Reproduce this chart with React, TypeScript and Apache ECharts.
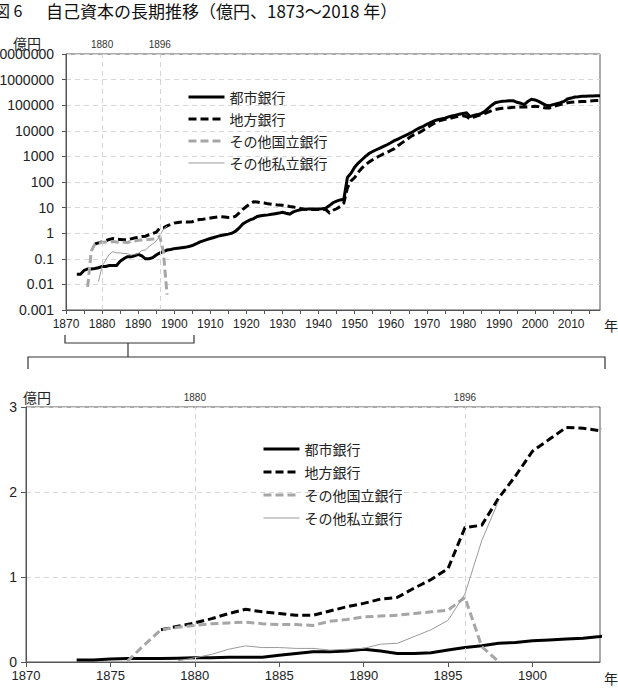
import React, { useEffect, useRef } from "react";
import * as echarts from "echarts";

const FONT = "'Liberation Sans', 'Noto Sans CJK JP', sans-serif";
const JP_FONT = "'Noto Sans CJK JP', 'Liberation Sans', sans-serif";

const seriesNames = ["都市銀行", "地方銀行", "その他国立銀行", "その他私立銀行"];

// 都市銀行, 1873–2018 (億円)
const cityStart = 1873;
const cityValues = [
  0.025, 0.025, 0.035, 0.04, 0.04, 0.042, 0.045,
  0.05, 0.05, 0.055, 0.055, 0.055, 0.08, 0.1, 0.12, 0.12, 0.13,
  0.15, 0.13, 0.1, 0.1, 0.11, 0.14, 0.17, 0.19, 0.22, 0.23,
  0.25, 0.26, 0.27, 0.28, 0.3, 0.33, 0.38, 0.45, 0.5, 0.56,
  0.62, 0.68, 0.75, 0.82, 0.87, 0.92, 1.0, 1.2, 1.6, 2.3,
  2.8, 3.3, 3.7, 4.5, 4.8, 5.0, 5.2, 5.5, 5.8, 6.1,
  6.6, 6.0, 5.6, 6.8, 7.6, 8.2, 8.7, 8.8, 8.8, 8.9,
  8.9, 9.0, 9.5, 12, 15.5, 18, 20, 21, 150, 220,
  380, 550, 740, 1000, 1300, 1550, 1820, 2100, 2450, 2850,
  3400, 4100, 4700, 5600, 6500, 7600, 9000, 11000, 13000, 15000,
  18000, 21000, 24500, 27000, 29000, 31000, 35000, 38000, 41000, 44000,
  47000, 50000, 36000, 40000, 43000, 47000, 56000, 75000, 100000, 125000,
  135000, 142000, 145000, 150000, 148000, 130000, 120000, 105000, 140000, 170000,
  160000, 140000, 118000, 100000, 96000, 105000, 115000, 125000, 140000, 175000,
  190000, 210000, 215000, 222000, 225000, 228000, 230000, 232000, 235000,
];

// 地方銀行, 1878–2018
const regionalStart = 1878;
const regionalValues = [
  0.38, 0.42,
  0.46, 0.51, 0.57, 0.62, 0.59, 0.57, 0.55, 0.55, 0.6, 0.65,
  0.69, 0.74, 0.76, 0.87, 0.97, 1.1, 1.58, 1.61, 1.93, 2.19,
  2.48, 2.62, 2.76, 2.75, 2.72, 2.8, 3.2, 3.4, 3.5, 3.7,
  3.9, 4.1, 4.3, 4.4, 4.3, 4.1, 4.1, 4.6, 6.2, 8.5,
  11, 14, 17, 16.5, 15.6, 15, 14, 13.5, 13, 12.5,
  12.3, 11.8, 11, 10.5, 10, 9.2, 8.6, 8.4, 8.4, 8.4,
  8.4, 8.4, 8.4, 6.2, 7.9, 9, 11, 15, 60, 110,
  150, 240, 350, 470, 600, 740, 900, 1060, 1250, 1450,
  1700, 2000, 2600, 3300, 4100, 5200, 6500, 7500, 8700, 10500,
  13000, 16000, 19500, 23000, 26000, 28000, 29000, 32000, 35000, 37000,
  39000, 36000, 29000, 34000, 38000, 43000, 47000, 54000, 62000, 68000,
  73000, 76000, 78000, 80000, 83000, 84000, 85000, 85000, 86000, 88000,
  91000, 88000, 83000, 78000, 78000, 90000, 96000, 105000, 115000, 125000,
  130000, 133000, 136000, 138000, 140000, 145000, 148000, 152000, 155000,
];

// その他国立銀行, 1876–1898
const nationalStart = 1876;
const nationalValues = [
  0.008, 0.2, 0.38, 0.41, 0.43, 0.45, 0.46, 0.47, 0.45, 0.44, 0.44, 0.43,
  0.48, 0.5, 0.53, 0.54, 0.55, 0.57, 0.59, 0.61, 0.76, 0.18, 0.004,
];

// その他私立銀行, 1879–1898
const privateStart = 1879;
const privateValues = [
  0.013, 0.05, 0.09, 0.15, 0.19, 0.17, 0.17, 0.16, 0.16, 0.14,
  0.15, 0.16, 0.21, 0.22, 0.3, 0.38, 0.49, 0.8, 1.43, 1.9,
];

const markYears = [1880, 1896];
const detailEndYear = 1904;

const lineStyles = [
  { color: "#000000", width: 3, type: "solid" as any },
  { color: "#000000", width: 3, type: [8, 4] as any },
  { color: "#a6a6a6", width: 3, type: [8, 4] as any },
  { color: "#9a9a9a", width: 1, type: "solid" as any },
];

const toPairs = (start: number, values: number[]) =>
  values.map((v, i) => [start + i, v]);

const allData = [
  toPairs(cityStart, cityValues),
  toPairs(regionalStart, regionalValues),
  toPairs(nationalStart, nationalValues),
  toPairs(privateStart, privateValues),
];

function buildSeries(grid: number, lastYear: number) {
  return seriesNames.map((name, i) => {
    const s: any = {
      type: "line",
      name,
      xAxisIndex: grid,
      yAxisIndex: grid,
      data: allData[i].filter((d) => d[0] <= lastYear),
      symbol: "none",
      clip: true,
      lineStyle: { ...lineStyles[i], cap: "butt", join: "miter" },
      itemStyle: { color: lineStyles[i].color },
      emphasis: { disabled: true },
    };
    if (i === 0) {
      s.markLine = {
        silent: true,
        symbol: "none",
        animation: false,
        lineStyle: { type: [5, 4], color: "#d4d4d4", width: 1 },
        label: {
          show: true,
          position: "end",
          formatter: "{c}",
          fontSize: 10,
          fontFamily: FONT,
          color: "#333",
          distance: 5,
        },
        data: markYears.map((y) => ({ xAxis: y })),
      };
    }
    return s;
  });
}

function legendFor(left: number, top: number, gap: number) {
  return {
    orient: "vertical",
    left,
    top,
    padding: 0,
    itemWidth: 36,
    itemHeight: 14,
    itemGap: gap,
    selectedMode: false,
    textStyle: { fontSize: 14, fontFamily: JP_FONT, color: "#222" },
    data: seriesNames.map((name, i) => ({
      name,
      itemStyle: { opacity: 0 },
      lineStyle: { ...lineStyles[i] },
    })),
  };
}

const axisLineStyle = { color: "#555", width: 1 };
const gridLineStyle = { type: [5, 4] as any, color: "#d9d9d9", width: 1 };

export default function App() {
  const ref = useRef<HTMLDivElement>(null);

  useEffect(() => {
    if (!ref.current) return;
    const chart = echarts.init(ref.current, null, { renderer: "svg" });
    const fmtLog = (v: number) => String(Number(v.toPrecision(6)));

    const option: any = {
      animation: false,
      backgroundColor: "#ffffff",
      grid: [
        {
          left: 66, top: 54, right: 18, bottom: 380,
          outerBoundsMode: "none", containLabel: false,
          show: true, borderColor: "#555", borderWidth: 1, backgroundColor: "transparent",
        },
        {
          left: 26, top: 407, right: 18, bottom: 28,
          outerBoundsMode: "none", containLabel: false,
          show: true, borderColor: "#555", borderWidth: 1, backgroundColor: "transparent",
        },
      ],
      xAxis: [
        {
          type: "value",
          gridIndex: 0,
          min: 1870,
          max: 2018,
          interval: 5,
          axisLine: { show: true, lineStyle: axisLineStyle },
          axisTick: { show: true, length: 4, lineStyle: axisLineStyle },
          splitLine: { show: false },
          axisLabel: {
            fontSize: 12,
            fontFamily: FONT,
            color: "#222",
            margin: 8,
            showMaxLabel: false,
            formatter: (v: number) => (v % 10 === 0 ? String(v) : ""),
          },
        },
        {
          type: "value",
          gridIndex: 1,
          min: 1870,
          max: detailEndYear,
          interval: 5,
          axisLine: { show: true, lineStyle: axisLineStyle },
          axisTick: { show: true, length: 5, lineStyle: axisLineStyle },
          splitLine: { show: false },
          axisLabel: {
            fontSize: 13,
            fontFamily: FONT,
            color: "#222",
            margin: 7,
            showMaxLabel: false,
            formatter: (v: number) => (v % 5 === 0 ? String(v) : ""),
          },
        },
      ],
      yAxis: [
        {
          type: "log",
          logBase: 10,
          gridIndex: 0,
          min: 0.001,
          max: 10000000,
          interval: 1,
          axisLine: { show: true, lineStyle: axisLineStyle },
          axisTick: { show: true, length: 4, lineStyle: axisLineStyle },
          splitLine: { show: true, lineStyle: gridLineStyle },
          axisLabel: { fontSize: 14, fontFamily: FONT, color: "#222", margin: 12, formatter: fmtLog },
        },
        {
          type: "value",
          gridIndex: 1,
          min: 0,
          max: 3,
          interval: 1,
          axisLine: { show: true, lineStyle: axisLineStyle },
          axisTick: { show: true, length: 5, lineStyle: axisLineStyle },
          splitLine: { show: true, lineStyle: gridLineStyle },
          axisLabel: { fontSize: 14, fontFamily: FONT, color: "#222", margin: 9 },
        },
      ],
      legend: [legendFor(187, 90, 8), legendFor(262, 442, 9)],
      series: [...buildSeries(0, 2018), ...buildSeries(1, detailEndYear + 1)],
      graphic: [
        {
          type: "text",
          x: -6,
          y: 10,
          style: { text: "図 6", fontSize: 16, fontFamily: JP_FONT, fill: "#111", verticalAlign: "middle" },
        },
        {
          type: "text",
          x: 46,
          y: 10,
          style: {
            text: "自己資本の長期推移（億円、1873～2018 年）",
            fontSize: 17,
            fontFamily: JP_FONT,
            fill: "#111",
            verticalAlign: "middle",
          },
        },
        {
          type: "text",
          x: 13,
          y: 43,
          style: { text: "億円", fontSize: 14, fontFamily: JP_FONT, fill: "#222", verticalAlign: "middle" },
        },
        {
          type: "text",
          x: 604,
          y: 325,
          style: { text: "年", fontSize: 14, fontFamily: JP_FONT, fill: "#222", verticalAlign: "middle" },
        },
        {
          type: "text",
          x: 23,
          y: 397,
          style: { text: "億円", fontSize: 14, fontFamily: JP_FONT, fill: "#222", verticalAlign: "middle" },
        },
        {
          type: "text",
          x: 604,
          y: 678,
          style: { text: "年", fontSize: 14, fontFamily: JP_FONT, fill: "#222", verticalAlign: "middle" },
        },
        // bracket linking the 1870–1904 span of the upper axis to the lower panel
        {
          type: "polyline",
          shape: { points: [[65, 335], [65, 343], [194, 343], [194, 335]] },
          style: { stroke: "#333", lineWidth: 1.2, fill: null },
        },
        {
          type: "polyline",
          shape: { points: [[128, 343], [128, 357]] },
          style: { stroke: "#333", lineWidth: 1.2, fill: null },
        },
        {
          type: "polyline",
          shape: { points: [[28, 369], [28, 357], [605, 357], [605, 369]] },
          style: { stroke: "#333", lineWidth: 1.2, fill: null },
        },
      ],
    };

    chart.setOption(option);
    return () => chart.dispose();
  }, []);

  return (
    <div
      ref={ref}
      style={{ position: "absolute", left: 0, top: 0, width: 618, height: 690 }}
    />
  );
}
